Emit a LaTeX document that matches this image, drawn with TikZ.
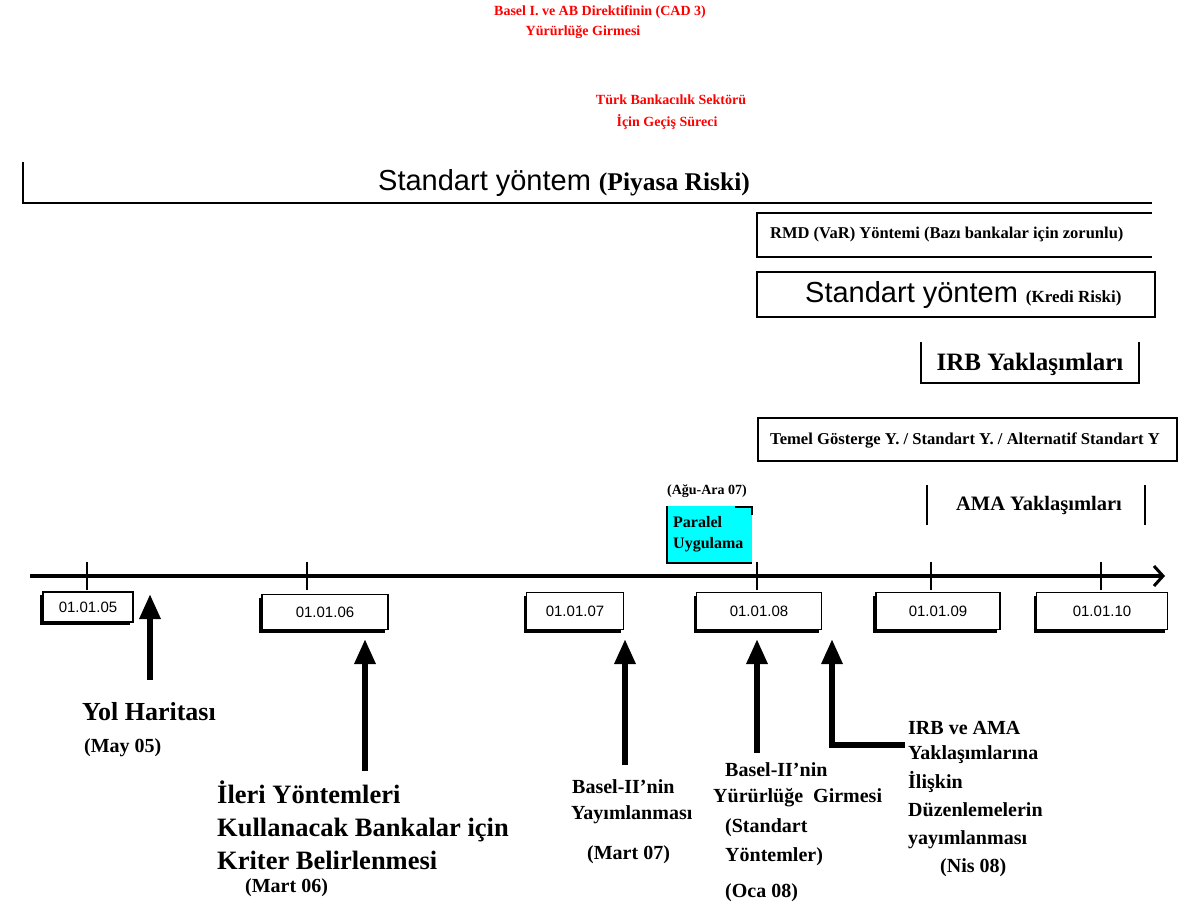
\documentclass[tikz,border=0pt]{standalone}
\usepackage{fontspec}
\setmainfont{Liberation Serif}
\newfontfamily\arialf{Liberation Sans}
\usetikzlibrary{arrows.meta,shadows}
\definecolor{brightcyan}{RGB}{0,255,255}
\tikzset{
  txt/.style={inner sep=0pt, anchor=west, font=\bfseries},
  lowtxt/.style={inner sep=0pt, anchor=west, font=\bfseries\fontsize{20}{20}\selectfont},
  redtxt/.style={inner sep=0pt, text=red, font=\bfseries\fontsize{14}{15}\selectfont},
  frame/.style={line width=1.8pt},
  datebox/.style={draw, line width=1.6pt, fill=white, inner sep=0pt,
    font=\arialf\fontsize{15}{15}\selectfont,
    drop shadow={shadow xshift=-3pt, shadow yshift=-3pt, opacity=1, fill=black}},
  uparrow/.style={line width=6pt, -{Triangle[width=20pt,length=25pt]}},
  tickline/.style={line width=1.2pt}
}
\begin{document}
\begin{tikzpicture}[x=1pt,y=-1pt]
\useasboundingbox (0,0) rectangle (1189,921);
\fill[white] (0,0) rectangle (1189,921);

% red headings
\node[redtxt] (h1a) at (600,12) {Basel I. ve AB Direktifinin (CAD 3)};
\node[redtxt] (h1b) at (583,32) {Yürürlüğe Girmesi};
\node[redtxt] (h2a) at (671,100) {Türk Bankacılık Sektörü};
\node[redtxt] (h2b) at (667,122) {İçin Geçiş Süreci};

% Piyasa riski
\node[inner sep=0pt, anchor=west] (piy) at (378,183)
  {{\arialf\fontsize{29}{29}\selectfont Standart yöntem}\hspace{8pt}{\bfseries\fontsize{25.5}{25}\selectfont(Piyasa Riski)}};
\draw[frame] (23,162) -- (23,203) -- (1152,203);

% RMD
\draw[frame] (1152,213) -- (757,213) -- (757,257) -- (1152,257);
\node[txt, font=\bfseries\fontsize{16.5}{16}\selectfont] (rmd) at (770,235)
  {RMD (VaR) Yöntemi (Bazı bankalar için zorunlu)};

% Kredi
\draw[frame] (757,272) rectangle (1155,317);
\node[inner sep=0pt, anchor=west] (kredi) at (805,295)
  {{\arialf\fontsize{29}{29}\selectfont Standart yöntem}\hspace{8pt}{\bfseries\fontsize{17}{17}\selectfont(Kredi Riski)}};

% IRB
\draw[frame] (921,342) -- (921,383) -- (1139,383) -- (1139,342);
\node[inner sep=0pt, font=\bfseries\fontsize{25}{25}\selectfont] (irb) at (1030,364) {IRB Yaklaşımları};

% Temel
\draw[frame] (758,418) rectangle (1177,461);
\node[txt, font=\bfseries\fontsize{16.6}{16}\selectfont] (temel) at (770,440)
  {Temel Gösterge Y. / Standart Y. / Alternatif Standart Y};

% AMA
\draw[frame] (927,485) -- (927,525);
\draw[frame] (1145,485) -- (1145,525);
\node[inner sep=0pt, font=\bfseries\fontsize{20.5}{20}\selectfont] (ama) at (1039,505) {AMA Yaklaşımları};

% Paralel uygulama
\fill[brightcyan] (667,506) rectangle (752,563);
\draw[line width=1.2pt] (667,506) -- (667,563) -- (752,563);
\draw[line width=2pt] (735,507) -- (752,507) -- (752,515);
\node[inner sep=0pt, font=\bfseries\fontsize{14}{14}\selectfont] (agu) at (707,491) {(Ağu-Ara 07)};
\node[txt, font=\bfseries\fontsize{16}{16}\selectfont] (par1) at (673,522) {Paralel};
\node[txt, font=\bfseries\fontsize{16}{16}\selectfont] (par2) at (673,545) {Uygulama};

% timeline
\coordinate (t0) at (30,576);
\coordinate (t1) at (1165,576);
\draw[line width=4pt, -{Straight Barb[length=9pt,width=20pt,line width=3pt]}] (t0) -- (t1);
\foreach \xx in {87,307,757,931,1101} \draw[tickline] (\xx,562) -- (\xx,590);

% date boxes
\node[datebox, minimum width=90pt, minimum height=30pt] (d5) at (88,607) {01.01.05};
\node[datebox, minimum width=126pt, minimum height=35pt] (d6) at (325,612) {01.01.06};
\node[datebox, minimum width=97pt, minimum height=37pt] (d7) at (575,611) {01.01.07};
\node[datebox, minimum width=125pt, minimum height=37pt] (d8) at (759,611) {01.01.08};
\node[datebox, minimum width=124pt, minimum height=37pt] (d9) at (938,611) {01.01.09};
\node[datebox, minimum width=131pt, minimum height=37pt] (d10) at (1102,611) {01.01.10};

% lower texts
\node[txt, font=\bfseries\fontsize{26}{26}\selectfont] (yol) at (82,712) {Yol Haritası};
\node[lowtxt] (yolm) at (84,748) {(May 05)};

\node[inner sep=0pt, anchor=north west, align=left, font=\bfseries\fontsize{26.5}{33}\selectfont] (ileri) at (217,781)
  {İleri Yöntemleri\\Kullanacak Bankalar için\\Kriter Belirlenmesi};
\node[lowtxt] (ilerim) at (245,888) {(Mart 06)};

\node[lowtxt] (bay1) at (572,787) {Basel-II'nin};
\node[lowtxt] (bay2) at (571,815) {Yayımlanması};
\node[lowtxt] (baym) at (587,855) {(Mart 07)};

\node[lowtxt] (byr1) at (725,770) {Basel-II'nin};
\node[lowtxt] (byr2) at (713,798) {Yürürlüğe\ \ Girmesi};
\node[lowtxt] (byr3) at (725,828) {(Standart};
\node[lowtxt] (byr4) at (725,857) {Yöntemler)};
\node[lowtxt] (byrm) at (725,893) {(Oca 08)};

\node[lowtxt] (irb1) at (908,728) {IRB ve AMA};
\node[lowtxt] (irb2) at (908,755) {Yaklaşımlarına};
\node[lowtxt] (irb3) at (908,782) {İlişkin};
\node[lowtxt] (irb4) at (908,810) {Düzenlemelerin};
\node[lowtxt] (irb5) at (908,840) {yayımlanması};
\node[lowtxt] (irbm) at (940,868) {(Nis 08)};

% arrows
\coordinate (a1s) at (150,680); \coordinate (a1e) at (150,594);
\coordinate (a2s) at (365,771); \coordinate (a2e) at (365,639);
\coordinate (a3s) at (625,765); \coordinate (a3e) at (625,639);
\coordinate (a4s) at (757,753); \coordinate (a4e) at (757,639);
\coordinate (a5s) at (905,745); \coordinate (a5m) at (832,745); \coordinate (a5e) at (832,639);
\draw[uparrow] (a1s) -- (a1e);
\draw[uparrow] (a2s) -- (a2e);
\draw[uparrow] (a3s) -- (a3e);
\draw[uparrow] (a4s) -- (a4e);
\draw[uparrow] (a5s) -- (a5m) -- (a5e);
\end{tikzpicture}
\end{document}
